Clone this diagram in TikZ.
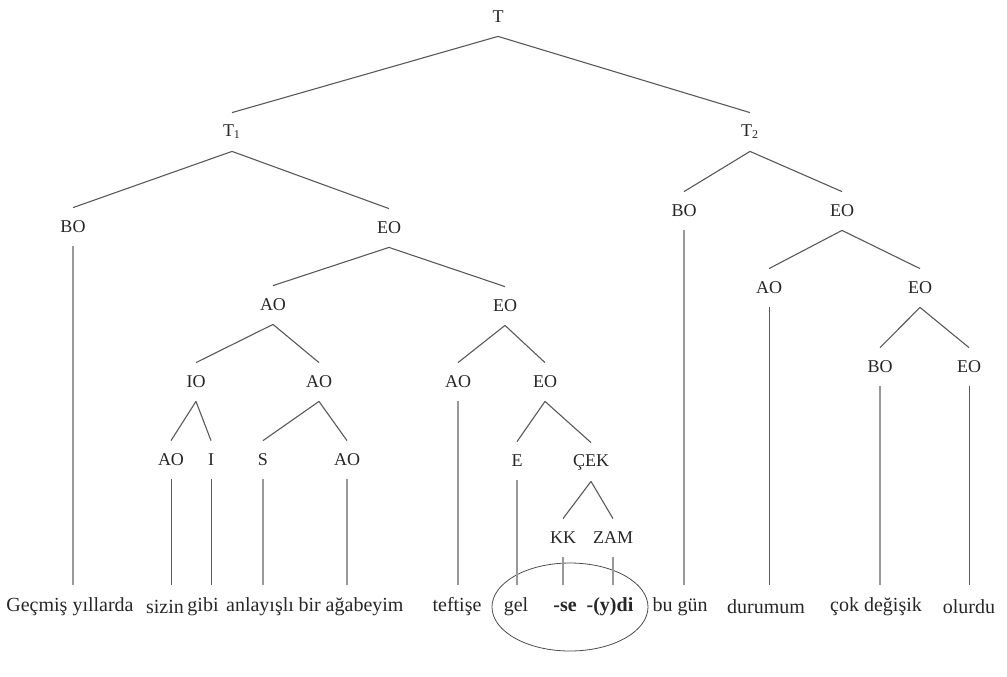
\documentclass[tikz,border=0pt]{standalone}
\usepackage{fontspec}
\setmainfont{Liberation Serif}
\usetikzlibrary{shapes.geometric}

\tikzset{
lab/.style={inner sep=0pt, minimum height=19pt, text=black!85,
  font=\fontsize{9}{11}\selectfont},
word/.style={inner sep=0pt, minimum height=22pt, text=black!85,
  font=\fontsize{10}{12}\selectfont},
branch/.style={draw=black!65, line width=0.55pt},
stem/.style={draw=black!40, line width=0.75pt},
darkstem/.style={draw=black!65, line width=0.5pt}
}

\begin{document}
\begin{tikzpicture}[x=0.5pt, y=-0.5pt]

\useasboundingbox (0,0) rectangle (1007,676);

%%%%%%%%%%%%%%%%%%%%%%%%%%%%%%%%%%%%%%%%%%%%%%%%%%%%%%
% TOP LEVELS
%%%%%%%%%%%%%%%%%%%%%%%%%%%%%%%%%%%%%%%%%%%%%%%%%%%%%%

\node[lab](T) at (498,17) {T};
\node[lab](T1) at (232,132) {T\textsubscript{1}};
\node[lab](T2) at (750,132) {T\textsubscript{2}};

\node[lab](BOa) at (73,227) {BO};
\node[lab](EOa) at (389,228) {EO};
\node[lab](BOb) at (684,211) {BO};
\node[lab](EOb) at (842,211) {EO};

%%%%%%%%%%%%%%%%%%%%%%%%%%%%%%%%%%%%%%%%%%%%%%%%%%%%%%
% MIDDLE LEVELS
%%%%%%%%%%%%%%%%%%%%%%%%%%%%%%%%%%%%%%%%%%%%%%%%%%%%%%

\node[lab](AOa) at (273,305) {AO};
\node[lab](EOc) at (505,306) {EO};
\node[lab](AOb) at (769,288) {AO};
\node[lab](EOd) at (920,288) {EO};

\node[lab](IO) at (196,382) {IO};
\node[lab](AOc) at (319,382) {AO};
\node[lab](AOd) at (458,382) {AO};
\node[lab](EOe) at (545,382) {EO};
\node[lab](BOc) at (880,367) {BO};
\node[lab](EOf) at (969,367) {EO};

%%%%%%%%%%%%%%%%%%%%%%%%%%%%%%%%%%%%%%%%%%%%%%%%%%%%%%
% LOW LEVELS
%%%%%%%%%%%%%%%%%%%%%%%%%%%%%%%%%%%%%%%%%%%%%%%%%%%%%%

\node[lab](AOe) at (171,460) {AO};
\node[lab](I) at (211,460) {I};
\node[lab](S) at (263,460) {S};
\node[lab](AOf) at (347,460) {AO};
\node[lab](E) at (517,461) {E};
\node[lab](CEK) at (591,462) {ÇEK};
\node[lab](KK) at (563,538) {KK};
\node[lab](ZAM) at (613,538) {ZAM};

%%%%%%%%%%%%%%%%%%%%%%%%%%%%%%%%%%%%%%%%%%%%%%%%%%%%%%
% WORDS
%%%%%%%%%%%%%%%%%%%%%%%%%%%%%%%%%%%%%%%%%%%%%%%%%%%%%%

\node[word](gecmis) at (70,607) {Geçmiş yıllarda};
\node[word](sizin) at (165,607) {sizin};
\node[word](gibi) at (203,607) {gibi};
\node[word](anlayisli) at (260,607) {anlayışlı};
\node[word](agabeyim) at (351,607) {bir ağabeyim};
\node[word](teftise) at (457,607) {teftişe};
\node[word](gel) at (516,607) {gel};
\node[word](se) at (565,607) {\textbf{-se}};
\node[word](ydi) at (610,607) {\textbf{-(y)di}};
\node[word](bugun) at (680,607) {bu gün};
\node[word](durumum) at (766,607) {durumum};
\node[word](degisik) at (876,607) {çok değişik};
\node[word](olurdu) at (969,607) {olurdu};

\node[
draw=black!70,
ellipse,
inner sep=0pt,
minimum width=78pt,
minimum height=44pt
](ring)
at (570,607) {};

%%%%%%%%%%%%%%%%%%%%%%%%%%%%%%%%%%%%%%%%%%%%%%%%%%%%%%
% BRANCHES
%%%%%%%%%%%%%%%%%%%%%%%%%%%%%%%%%%%%%%%%%%%%%%%%%%%%%%

\draw[branch] (T.south)--(T1.north);
\draw[branch] (T.south)--(T2.north);

\draw[branch] (T1.south)--(BOa.north);
\draw[branch] (T1.south)--(EOa.north);
\draw[branch] (T2.south)--(BOb.north);
\draw[branch] (T2.south)--(EOb.north);

\draw[branch] (EOa.south)--(AOa.north);
\draw[branch] (EOa.south)--(EOc.north);
\draw[branch] (EOb.south)--(AOb.north);
\draw[branch] (EOb.south)--(EOd.north);

\draw[branch] (AOa.south)--(IO.north);
\draw[branch] (AOa.south)--(AOc.north);
\draw[branch] (EOc.south)--(AOd.north);
\draw[branch] (EOc.south)--(EOe.north);
\draw[branch] (EOd.south)--(BOc.north);
\draw[branch] (EOd.south)--(EOf.north);

\draw[branch] (IO.south)--(AOe.north);
\draw[branch] (IO.south)--(I.north);
\draw[branch] (AOc.south)--(S.north);
\draw[branch] (AOc.south)--(AOf.north);
\draw[branch] (EOe.south)--(E.north);
\draw[branch] (EOe.south)--(CEK.north);
\draw[branch] (CEK.south)--(KK.north);
\draw[branch] (CEK.south)--(ZAM.north);

%%%%%%%%%%%%%%%%%%%%%%%%%%%%%%%%%%%%%%%%%%%%%%%%%%%%%%
% STEMS
%%%%%%%%%%%%%%%%%%%%%%%%%%%%%%%%%%%%%%%%%%%%%%%%%%%%%%

\draw[stem] (BOa.south)--(BOa.south |- gecmis.north);
\draw[darkstem] (AOe.south)--(AOe.south |- sizin.north);
\draw[darkstem] (I.south)--(I.south |- gibi.north);
\draw[stem] (S.south)--(S.south |- anlayisli.north);
\draw[stem] (AOf.south)--(AOf.south |- agabeyim.north);
\draw[stem] (AOd.south)--(AOd.south |- teftise.north);
\draw[stem] (E.south)--(E.south |- gel.north);
\draw[stem] (KK.south)--(KK.south |- se.north);
\draw[stem] (ZAM.south)--(ZAM.south |- ydi.north);
\draw[stem] (BOb.south)--(BOb.south |- bugun.north);
\draw[darkstem] (AOb.south)--(AOb.south |- durumum.north);
\draw[stem] (BOc.south)--(BOc.south |- degisik.north);
\draw[darkstem] (EOf.south)--(EOf.south |- olurdu.north);

\end{tikzpicture}
\end{document}
